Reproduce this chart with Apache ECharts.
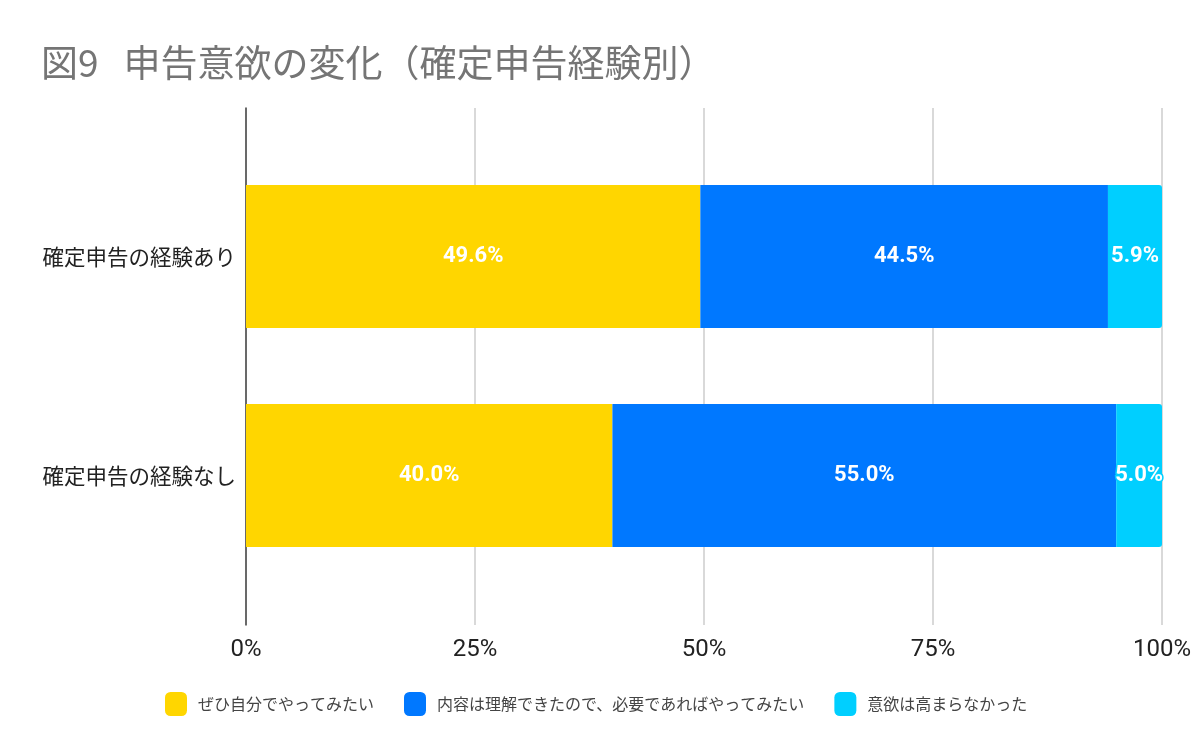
<!DOCTYPE html>
<html>
<head>
<meta charset="utf-8">
<script src="https://cdn.jsdelivr.net/npm/echarts@6/dist/echarts.min.js"></script>
<style>
  html, body { margin: 0; padding: 0; background: #fff; }
  #chart { width: 1200px; height: 748px; }
</style>
</head>
<body>
<div id="chart"></div>
<script>
// 確定申告経験別の申告意欲
const categories = ['確定申告の経験あり', '確定申告の経験なし'];
const seriesNames = ['ぜひ自分でやってみたい', '内容は理解できたので、必要であればやってみたい', '意欲は高まらなかった'];
const wantToDo = [49.6, 40.0];
const ifNeeded = [44.5, 55.0];
const notMotivated = [5.9, 5.0];
const tickValues = [0, 25, 50, 75, 100];

const colors = ['#FFD600', '#0078FF', '#00CFFF'];
const font = '"Noto Sans CJK JP", "Noto Sans", sans-serif';
const numFont = 'Roboto, "Liberation Sans", sans-serif';

const chart = echarts.init(document.getElementById('chart'));

const makeSeries = (name, data, idx) => ({
    name: name,
    type: 'bar',
    stack: 'total',
    xAxisIndex: 1,
    yAxisIndex: 1,
    barWidth: 143,
    data: data,
    itemStyle: {
        color: colors[idx],
        borderRadius: idx === 2 ? [0, 3, 3, 0] : 0,
    },
    label: {
        show: true,
        position: 'inside',
        formatter: (p) => p.value.toFixed(1) + '%',
        color: '#fff',
        fontSize: 22,
        fontWeight: 'bold',
        fontFamily: numFont,
        textBorderColor: colors[idx],
        textBorderWidth: idx === 2 ? 3 : 0,
    },
    emphasis: { disabled: true },
});

const option = {
    animation: false,
    color: colors,
    title: {
        text: '図9   申告意欲の変化（確定申告経験別）',
        left: 36,
        top: 39,
        textStyle: {
            color: '#757575',
            fontSize: 37,
            fontWeight: 'normal',
            fontFamily: font,
        },
    },
    legend: {
        left: 160,
        top: 687,
        itemWidth: 22,
        itemHeight: 24,
        itemGap: 30,
        icon: 'roundRect',
        textStyle: {
            color: '#444',
            fontSize: 16,
            fontFamily: font,
            padding: [0, 0, 0, 6],
        },
        data: seriesNames,
    },
    grid: [
        // 目盛線用
        { left: 246, right: 38, top: 108, bottom: 123 },
        // 棒グラフ用
        { left: 246, right: 38, top: 147, bottom: 163 },
    ],
    xAxis: [
        {
            gridIndex: 0,
            type: 'value',
            min: 0,
            max: 100,
            interval: 25,
            axisLine: { show: false },
            axisTick: { show: false },
            splitLine: { lineStyle: { color: '#cccccc', width: 1.5 } },
            axisLabel: {
                margin: 13,
                color: '#222',
                fontSize: 24,
                fontFamily: numFont,
                formatter: (v) => (tickValues.includes(v) ? v + '%' : ''),
            },
        },
        {
            gridIndex: 1,
            type: 'value',
            min: 0,
            max: 100,
            show: false,
        },
    ],
    yAxis: [
        {
            gridIndex: 0,
            type: 'value',
            axisLine: { show: true, lineStyle: { color: '#444', width: 1.5 } },
            axisTick: { show: false },
            axisLabel: { show: false },
            splitLine: { show: false },
        },
        {
            gridIndex: 1,
            type: 'category',
            inverse: true,
            data: categories,
            axisLine: { show: false },
            axisTick: { show: false },
            splitLine: { show: false },
            axisLabel: {
                margin: 10,
                color: '#222',
                fontSize: 21.5,
                fontFamily: font,
            },
        },
    ],
    series: [
        makeSeries(seriesNames[0], wantToDo, 0),
        makeSeries(seriesNames[1], ifNeeded, 1),
        makeSeries(seriesNames[2], notMotivated, 2),
    ],
};

chart.setOption(option);
</script>
</body>
</html>
